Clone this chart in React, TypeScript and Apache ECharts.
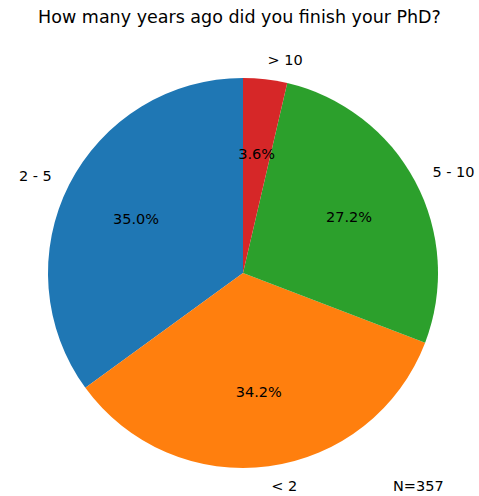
import React, { useEffect, useRef } from "react";
import * as echarts from "echarts";

const categories = ["2 - 5", "< 2", "5 - 10", "> 10"];
const counts = [125, 122, 97, 13];
const colors = ["#1f77b4", "#ff7f0e", "#2ca02c", "#d62728"];
const titleText = "How many years ago did you finish your PhD?";
const noteText = "N=357";

const CX = 243;
const CY = 273;
const R = 195;
const FONT = "DejaVu Sans, sans-serif";
const FS = 14.5;

export default function App() {
  const ref = useRef<HTMLDivElement>(null);
  useEffect(() => {
    if (!ref.current) return;
    const chart = echarts.init(ref.current, null, { renderer: "svg" });
    const total = counts.reduce((a, b) => a + b, 0);
    const data = categories.map((c, i) => ({
      name: c,
      value: counts[i],
      itemStyle: { color: colors[i] },
    }));
    chart.setOption({
      animation: false,
      title: {
        text: titleText,
        left: "center",
        top: 3,
        textStyle: { fontFamily: FONT, fontSize: 17.5, fontWeight: "normal", color: "#000" },
      },
      graphic: [
        {
          type: "text",
          left: 393,
          top: 478,
          style: { text: noteText, font: `${FS}px ${FONT}`, fill: "#000" },
        },
      ],
      series: [
        {
          type: "pie",
          center: [CX, CY],
          radius: [0, R],
          startAngle: 90,
          clockwise: false,
          avoidLabelOverlap: false,
          emphasis: { disabled: true },
          label: {
            show: true,
            position: "outside",
            formatter: "{b}",
            fontFamily: FONT,
            fontSize: FS,
            color: "#000",
            distanceToLabelLine: 0,
          },
          labelLine: { show: false, length: 0.1 * R, length2: 0 },
          itemStyle: { borderWidth: 0 },
          data,
        },
        {
          type: "pie",
          center: [CX, CY],
          radius: [0.2 * R, R],
          startAngle: 90,
          clockwise: false,
          avoidLabelOverlap: false,
          silent: true,
          emphasis: { disabled: true },
          label: {
            show: true,
            position: "inside",
            formatter: (p: any) => ((p.value / total) * 100).toFixed(1) + "%",
            fontFamily: FONT,
            fontSize: FS,
            color: "#000",
          },
          labelLine: { show: false },
          itemStyle: { color: "transparent", borderWidth: 0 },
          data: categories.map((c, i) => ({ name: c, value: counts[i] })),
        },
      ],
    });
    return () => chart.dispose();
  }, []);
  return (
    <div
      ref={ref}
      style={{ position: "absolute", left: 0, top: 0, width: 479, height: 496, background: "#fff" }}
    />
  );
}
